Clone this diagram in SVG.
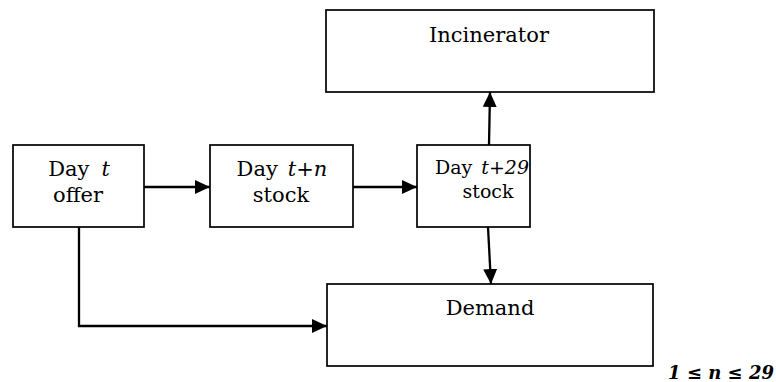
<svg xmlns="http://www.w3.org/2000/svg" width="776" height="382" viewBox="0 0 776 382">
<defs>
<marker id="ah" markerWidth="15" markerHeight="14" refX="15" refY="7" orient="auto" markerUnits="userSpaceOnUse">
<path d="M0,0 L15,7 L0,14 Z" fill="#000"/>
</marker>
</defs>
<style>
.box{fill:#fff;stroke:#000;stroke-width:1.7}
.t{font-family:"DejaVu Serif",serif;font-size:21px;fill:#000;text-anchor:middle}
.s{font-size:19px}
.i{font-style:italic}
.conn{fill:none;stroke:#000;stroke-width:2.3}
</style>
<g id="offer">
<rect class="box" x="13" y="145" width="131" height="82"/>
<text class="t" x="79" y="176">Day<tspan class="i" dx="12">t</tspan></text>
<text class="t" x="78" y="202">offer</text>
</g>
<g id="stock-n">
<rect class="box" x="210" y="145" width="143" height="82"/>
<text class="t" x="282" y="176">Day<tspan class="i" dx="10">t+n</tspan></text>
<text class="t" x="281" y="202">stock</text>
</g>
<g id="stock-29">
<rect class="box" x="417" y="145" width="113" height="82"/>
<text class="t s" x="482" y="174">Day<tspan class="i" dx="9">t+29</tspan></text>
<text class="t s" x="488" y="198">stock</text>
</g>
<g id="incinerator">
<rect class="box" x="326" y="10" width="328" height="82"/>
<text class="t" x="489" y="42">Incinerator</text>
</g>
<g id="demand">
<rect class="box" x="327" y="284" width="326" height="82"/>
<text class="t" x="490" y="315">Demand</text>
</g>
<g id="connectors">
<line class="conn" x1="144" y1="187" x2="210" y2="187" marker-end="url(#ah)"/>
<line class="conn" x1="353" y1="187" x2="417" y2="187" marker-end="url(#ah)"/>
<line class="conn" x1="489" y1="145" x2="490" y2="92" marker-end="url(#ah)"/>
<line class="conn" x1="488" y1="227" x2="491" y2="284" marker-end="url(#ah)"/>
<polyline class="conn" points="79,227 79,326 327,326" marker-end="url(#ah)"/>
</g>
<text x="774" y="379" font-family="'DejaVu Serif',serif" font-size="18" font-weight="bold" font-style="italic" text-anchor="end">1 ≤ n ≤ 29</text>
</svg>
